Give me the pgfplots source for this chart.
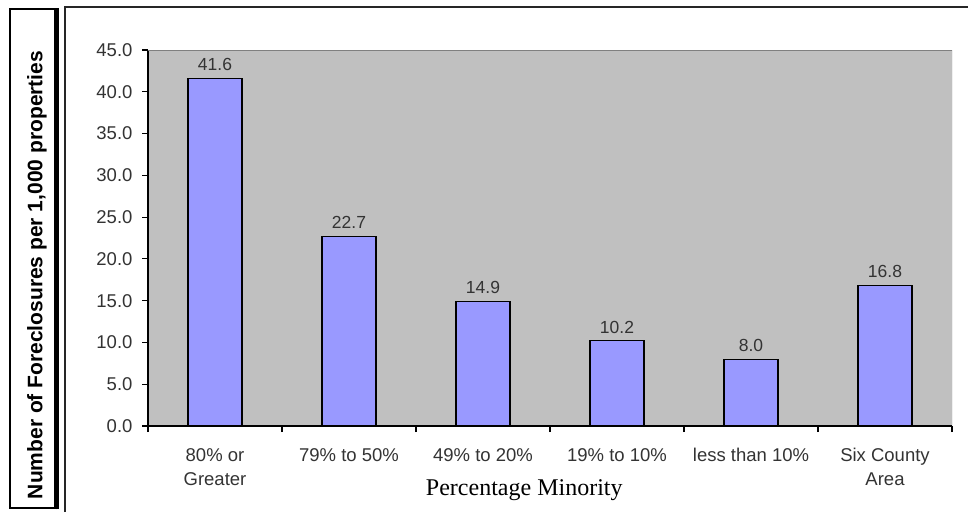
\documentclass[border=0pt]{standalone}
\usepackage{fontspec}
\setmainfont{Liberation Sans}
\newfontfamily\serif{Liberation Serif}
\usepackage{pgfplots}
\pgfplotsset{compat=1.18}
\definecolor{plotbg}{HTML}{C0C0C0}
\definecolor{barfill}{HTML}{9999FF}
\definecolor{txt}{HTML}{333333}

\begin{document}
\begin{tikzpicture}[x=1pt,y=1pt]
\useasboundingbox (0,0) rectangle (968,512);
% frames
\draw[line width=1.5pt, black!85] (65,0) -- (65,505) -- (968,505);
\draw[line width=2.8pt] (10,4) rectangle (55,503);
\draw[line width=3pt] (57,2.6) -- (57,504.4);
\node[rotate=90, font=\bfseries\fontsize{21}{24}\selectfont] at (37,237) {Number of Foreclosures per 1,000 properties};

\begin{axis}[
  at={(148pt,86pt)}, anchor=south west,
  scale only axis, width=804pt, height=376pt,
  ybar, bar width=54pt,
  xmin=-0.5, xmax=5.5, ymin=0, ymax=45,
  axis x line*=bottom, axis y line*=left,
  axis line style={line width=1.3pt, black},
  axis background/.style={fill=plotbg},
  ytick={0,5,10,15,20,25,30,35,40,45},
  xtick={0,1,2,3,4,5},
  xticklabels={{80\% or\\Greater},{79\% to 50\%},{49\% to 20\%},{19\% to 10\%},{less than 10\%},{Six County\\Area}},
  minor xtick={-0.5,0.5,1.5,2.5,3.5,4.5,5.5},
  tick align=outside,
  major tick length=6pt, minor tick length=6pt,
  major x tick style={draw=none},
  tick style={line width=1.2pt, black},
  xticklabel style={align=center, text=txt, font=\fontsize{18.5}{24}\selectfont, yshift=-13pt},
  yticklabel style={text=txt, font=\fontsize{18.5}{22}\selectfont, xshift=-6pt},
  xlabel={Percentage Minority},
  xlabel style={font=\serif\fontsize{24}{28}\selectfont, at={(axis description cs:0.468,-0.1835)}, anchor=base},
  nodes near coords,
  every node near coord/.append style={font=\fontsize{17.5}{20}\selectfont, text=txt, inner sep=0pt, yshift=7pt},
  /pgf/number format/fixed,
  /pgf/number format/fixed zerofill,
  /pgf/number format/precision=1,
  /pgf/number format/assume math mode=true,
]
\addplot[draw=black, line width=1.2pt, fill=barfill] coordinates {
  (0,41.6) (1,22.7) (2,14.9) (3,10.2) (4,8.0) (5,16.8)
};
\draw[gray, line width=1pt] (rel axis cs:0,1) -- (rel axis cs:1,1) -- (rel axis cs:1,0);
\end{axis}
\end{tikzpicture}
\end{document}
